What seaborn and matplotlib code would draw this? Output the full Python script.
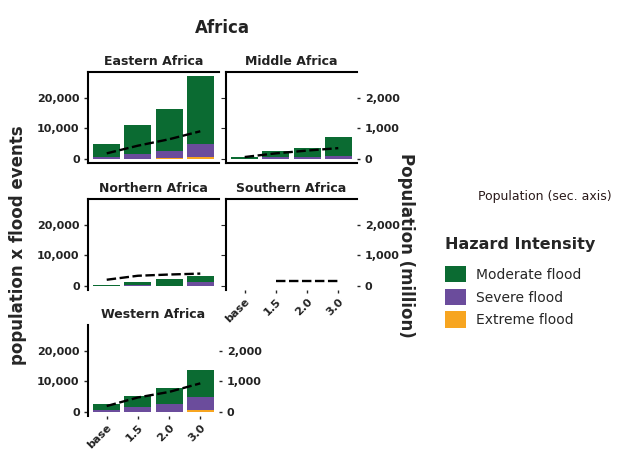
import numpy as np
import pandas as pd
import matplotlib
matplotlib.use("Agg")
import matplotlib.pyplot as plt
import seaborn as sns
from matplotlib.patches import Patch
from matplotlib.ticker import FuncFormatter, FixedLocator

# Scenarios and African sub-regions
scenarios = ["base", "1.5", "2.0", "3.0"]
regions = ["Eastern Africa", "Middle Africa", "Northern Africa",
           "Southern Africa", "Western Africa"]

# Population x flood events, by hazard intensity
moderate_eastern = [4450, 9500, 13850, 22000]
severe_eastern = [500, 1400, 2300, 4500]
extreme_eastern = [50, 100, 150, 500]

moderate_middle = [500, 1900, 2900, 6000]
severe_middle = [100, 700, 700, 1000]
extreme_middle = [0, 0, 0, 0]

moderate_northern = [300, 1200, 2100, 2000]
severe_northern = [100, 150, 100, 1200]
extreme_northern = [0, 0, 0, 100]

moderate_southern = [0, 0, 0, 0]
severe_southern = [0, 0, 0, 0]
extreme_southern = [0, 0, 0, 0]

moderate_western = [1900, 3600, 5300, 9000]
severe_western = [600, 1600, 2500, 4300]
extreme_western = [0, 0, 0, 500]

# Population in millions (secondary axis)
pop_eastern = [180, 430, 640, 900]
pop_middle = [60, 180, 270, 350]
pop_northern = [200, 330, 370, 400]
pop_southern = [np.nan, 150, 150, 150]
pop_western = [190, 470, 650, 930]

left_ticks = [0, 10000, 20000]
right_ticks = [0, 1000, 2000]
intensity_labels = ["Moderate flood", "Severe flood", "Extreme flood"]
intensity_colors = ["#0b6b32", "#6b4c9c", "#f7a520"]

series = {
    "Eastern Africa": (moderate_eastern, severe_eastern, extreme_eastern, pop_eastern),
    "Middle Africa": (moderate_middle, severe_middle, extreme_middle, pop_middle),
    "Northern Africa": (moderate_northern, severe_northern, extreme_northern, pop_northern),
    "Southern Africa": (moderate_southern, severe_southern, extreme_southern, pop_southern),
    "Western Africa": (moderate_western, severe_western, extreme_western, pop_western),
}

rows = []
for reg in regions:
    mod, sev, ext, pop = series[reg]
    for i, sc in enumerate(scenarios):
        rows.append(dict(region=reg, scenario=sc, pos=i, moderate=mod[i],
                         severe=sev[i], extreme=ext[i], population=pop[i]))
df = pd.DataFrame(rows)
df["top_extreme"] = df["extreme"]
df["top_severe"] = df["extreme"] + df["severe"]
df["top_moderate"] = df["top_severe"] + df["moderate"]

sns.set_style("white")
plt.rcParams["font.family"] = ["DejaVu Sans"]

W, H = 632, 457
fig = plt.figure(figsize=(W / 100, H / 100), dpi=100)


def rect(left, top, width, height):
    return [left / W, 1 - (top + height) / H, width / W, height / H]


col_left = [88, 226]
row_top = [72, 199, 325]
pw, ph = 131, 91

layout = {
    "Eastern Africa": (0, 0), "Middle Africa": (0, 1),
    "Northern Africa": (1, 0), "Southern Africa": (1, 1),
    "Western Africa": (2, 0),
}
visible_spines = {
    "Eastern Africa": ("top", "left", "bottom"),
    "Middle Africa": ("top", "left", "bottom"),
    "Northern Africa": ("top", "left"),
    "Southern Africa": ("top", "left"),
    "Western Africa": ("left",),
}
show_left = {"Eastern Africa", "Northern Africa", "Western Africa"}
show_right = {"Middle Africa", "Southern Africa", "Western Africa"}
show_x = {"Southern Africa", "Western Africa"}

ymax = df["top_moderate"].max()
ylo, yhi = -0.05 * ymax, 1.05 * ymax
comma = FuncFormatter(lambda v, p: f"{v:,.0f}")

for reg in regions:
    r, c = layout[reg]
    ax = fig.add_axes(rect(col_left[c], row_top[r], pw, ph))
    sub = df[df["region"] == reg]
    # stacked bars: full stack first, then the lower layers on top of it
    for col, colr in zip(["top_moderate", "top_severe", "top_extreme"], intensity_colors):
        sns.barplot(data=sub, x="scenario", y=col, order=scenarios, color=colr,
                    saturation=1, width=0.87, errorbar=None, linewidth=0, ax=ax)
    ax.set_xlim(-0.6, 3.6)
    ax.set_ylim(ylo, yhi)
    ax.set_xlabel("")
    ax.set_ylabel("")
    for s in ["top", "left", "bottom", "right"]:
        ax.spines[s].set_visible(s in visible_spines[reg])
        ax.spines[s].set_linewidth(1.5)
        ax.spines[s].set_color("black")
    ax.set_title(reg, fontsize=9, fontweight="bold", pad=5, color="#222222")

    ax.yaxis.set_major_locator(FixedLocator(left_ticks))
    ax.yaxis.set_major_formatter(comma)
    if reg in show_left:
        ax.tick_params(axis="y", left=True, length=3, width=1, pad=3,
                       labelsize=8, labelcolor="#222222")
        for t in ax.get_yticklabels():
            t.set_fontweight("bold")
    else:
        ax.tick_params(axis="y", left=False, labelleft=False)

    if reg in show_x:
        ax.tick_params(axis="x", bottom=True, length=2.5, width=1, pad=2,
                       labelsize=8, labelcolor="#222222")
        for t in ax.get_xticklabels():
            t.set_rotation(45)
            t.set_ha("right")
            t.set_va("top")
            t.set_rotation_mode("anchor")
            t.set_fontweight("bold")
    else:
        ax.tick_params(axis="x", bottom=False, labelbottom=False)

    # population on the secondary axis
    ax2 = ax.twinx()
    sns.lineplot(data=sub, x="pos", y="population", color="black",
                 linewidth=1.7, linestyle=(0, (4, 1.5)), ax=ax2)
    ax2.set_xlim(-0.6, 3.6)
    ax2.set_ylim(ylo / 10, yhi / 10)
    ax2.set_xlabel("")
    ax2.set_ylabel("")
    for s in ax2.spines.values():
        s.set_visible(False)
    ax2.yaxis.set_major_locator(FixedLocator(right_ticks))
    ax2.yaxis.set_major_formatter(comma)
    if reg in show_right:
        ax2.tick_params(axis="y", right=True, length=2.5, width=1, pad=3,
                        labelsize=8, labelcolor="#222222")
        for t in ax2.get_yticklabels():
            t.set_fontweight("bold")
    else:
        ax2.tick_params(axis="y", right=False, labelright=False)
    ax2.tick_params(axis="x", bottom=False, labelbottom=False)

fig.text(222 / W, 1 - 28 / H, "Africa", ha="center", va="center",
         fontsize=12, fontweight="bold", color="#222222")
fig.text(18 / W, 1 - 245 / H, "population x flood events", rotation=90,
         ha="center", va="center", fontsize=12, fontweight="bold")
fig.text(406 / W, 1 - 245 / H, "Population (million)", rotation=270,
         ha="center", va="center", fontsize=12, fontweight="bold")
fig.text(478 / W, 1 - 197 / H, "Population (sec. axis)", ha="left",
         va="center", fontsize=9, color="#2a1a1a")

fig.text(445 / W, 1 - 245 / H, "Hazard Intensity", ha="left", va="center",
         fontsize=11.5, fontweight="bold")
handles = [Patch(facecolor=c, edgecolor="none") for c in intensity_colors]
fig.legend(handles, intensity_labels, loc="upper left",
           bbox_to_anchor=(445 / W, 1 - 266 / H), frameon=False,
           fontsize=10, handlelength=1.5, handleheight=1.45,
           labelspacing=0.45, handletextpad=0.7, borderpad=0,
           borderaxespad=0)

fig.savefig("out.png", dpi=100)
